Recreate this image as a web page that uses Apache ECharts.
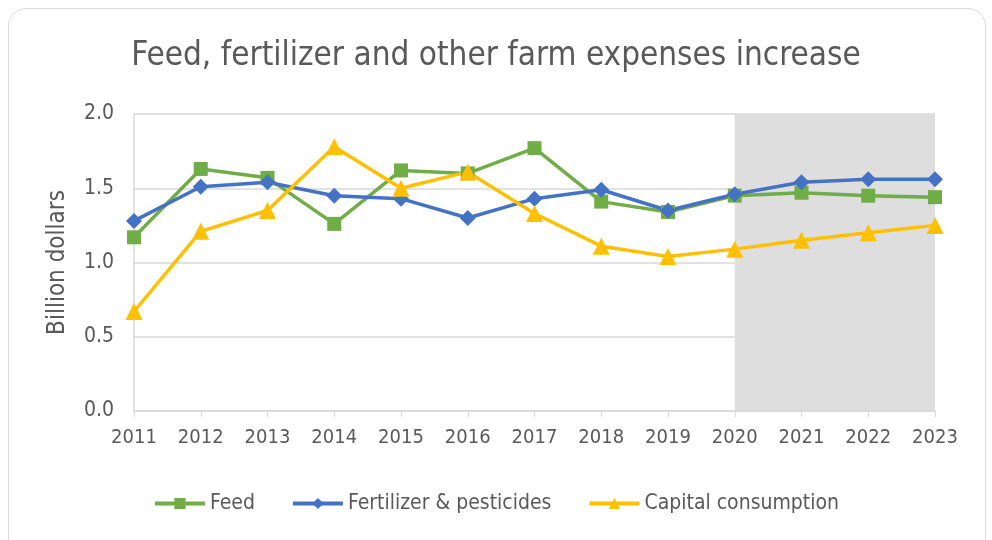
<!DOCTYPE html>
<html><head><meta charset="utf-8">
<script src="https://cdn.jsdelivr.net/npm/echarts@6/dist/echarts.min.js"></script>
<style>
html,body{margin:0;padding:0;background:#fff;}
#frame{position:absolute;left:8px;top:8px;width:978px;height:560px;border:1.5px solid #d9d9d9;border-radius:18px;box-sizing:border-box;}
#c{position:absolute;left:0;top:0;width:992px;height:540px;}
</style></head>
<body>
<div id="frame"></div>
<div id="c"></div>
<script>
const years = ['2011','2012','2013','2014','2015','2016','2017','2018','2019','2020','2021','2022','2023'];
const feed = [1.17,1.63,1.57,1.26,1.62,1.60,1.77,1.41,1.34,1.45,1.47,1.45,1.44];
const fertilizer = [1.28,1.51,1.54,1.45,1.43,1.30,1.43,1.49,1.35,1.46,1.54,1.56,1.56];
const capital = [0.67,1.21,1.35,1.78,1.50,1.61,1.33,1.11,1.04,1.09,1.15,1.20,1.25];
const shadeFrom = '2020', shadeTo = '2023';
const yTicks = {min:0, max:2, interval:0.5};

const FONT = '"Liberation Sans Narrow","DejaVu Sans Condensed","Open Sans",sans-serif';
const chart = echarts.init(document.getElementById('c'), null, {renderer:'canvas'});
function mk(name, data, color, symbol, size){
  return {name, type:'line', data, symbol, symbolSize:size, showSymbol:true,
    lineStyle:{color, width:3.5}, itemStyle:{color}, z:3};
}
const s1 = mk('Feed', feed, '#70AD47', 'rect', 14);
s1.markArea = {silent:true, itemStyle:{color:'#dedede'}, data:[[{xAxis:shadeFrom},{xAxis:shadeTo}]]};
s1.markArea.z = 0;
chart.setOption({
  animation:false,
  textStyle:{fontFamily:FONT},
  title:{text:'Feed, fertilizer and other farm expenses increase', left:'center', top:35,
    textStyle:{fontFamily:FONT, fontSize:33, fontWeight:'normal', color:'#595959'}},
  grid:{left:134, right:57, top:114, bottom:129},
  legend:{bottom:21, left:'center', itemWidth:50, itemHeight:14, itemGap:36,
    lineStyle:{width:4},
    textStyle:{fontFamily:FONT, fontSize:21, color:'#595959'},
    data:['Feed','Fertilizer & pesticides','Capital consumption']},
  xAxis:{type:'category', data:years, boundaryGap:false,
    axisLine:{lineStyle:{color:'#d9d9d9', width:1.5}},
    axisTick:{show:true, length:6, lineStyle:{color:'#d9d9d9'}},
    axisLabel:{fontFamily:FONT, fontSize:20, color:'#595959', margin:17},
    splitLine:{show:false}},
  yAxis:{type:'value', min:yTicks.min, max:yTicks.max, interval:yTicks.interval,
    name:'Billion dollars', nameLocation:'middle', nameGap:64, nameRotate:90,
    nameTextStyle:{fontFamily:FONT, fontSize:24, color:'#595959'},
    axisLine:{show:true, lineStyle:{color:'#d9d9d9', width:1.5}},
    axisTick:{show:false},
    axisLabel:{fontFamily:FONT, fontSize:21, color:'#595959', margin:20, formatter:v=>v.toFixed(1)},
    splitLine:{lineStyle:{color:'#d9d9d9', width:1.5}}},
  series:[s1,
    mk('Fertilizer & pesticides', fertilizer, '#4472C4', 'diamond', 16),
    mk('Capital consumption', capital, '#FFC000', 'triangle', 17)]
});
</script>
</body></html>
